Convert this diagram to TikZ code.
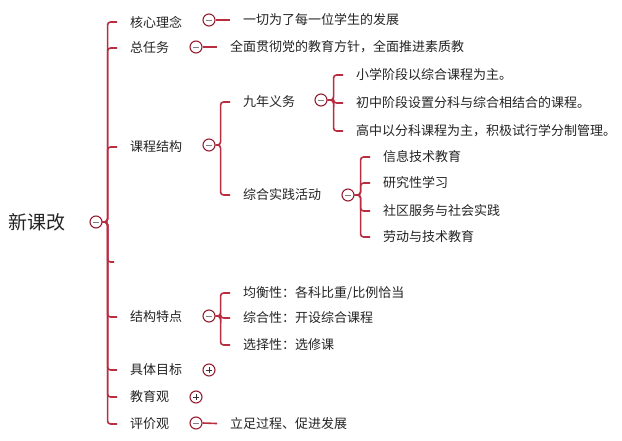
\documentclass[tikz,border=0pt]{standalone}
\usepackage{fontspec}
\setmainfont{Noto Sans CJK SC}
\definecolor{linered}{RGB}{185,45,65}
\definecolor{ringred}{RGB}{150,30,50}
\definecolor{txtgray}{RGB}{35,35,35}

\begin{document}
\begin{tikzpicture}[x=1pt, y=-1pt, font=\fontsize{13}{16}\selectfont,
    every node/.style={text=txtgray},
    item/.style={anchor=west, inner sep=0pt},
    ring/.style={circle, draw=ringred, line width=1.1pt, fill=white, minimum size=12pt, inner sep=0pt},
    fold/.style={ring, path picture={
        \draw[gray, line width=0.8pt] ([xshift=-3pt]path picture bounding box.center) -- ([xshift=3pt]path picture bounding box.center);}},
    unfold/.style={ring, path picture={
        \draw[gray!40!black, line width=0.8pt] ([xshift=-3pt]path picture bounding box.center) -- ([xshift=3pt]path picture bounding box.center)
          ([yshift=-3pt]path picture bounding box.center) -- ([yshift=3pt]path picture bounding box.center);}},
    branch/.style={draw=linered, line width=1.6pt, rounded corners=3pt, shorten >=13pt}]
  \useasboundingbox (0,0) rectangle (622,441);

  % Root
  \node[item, font=\fontsize{19}{22}\selectfont] (root) at (8,222) {新课改};
  \node[fold] (rootc) at (96,222) {};

  % First level
  \node[item] (hxln) at (130,22) {核心理念};
  \node[fold] (hxlnc) at (209,20) {};
  \node[item] (hxln1) at (243,20) {一切为了每一位学生的发展};

  \node[item] (zrw) at (130,48) {总任务};
  \node[fold] (zrwc) at (196,47) {};
  \node[item] (zrw1) at (230,47) {全面贯彻党的教育方针，全面推进素质教};

  \node[item] (kcjg) at (130,147) {课程结构};
  \node[fold] (kcjgc) at (209,145) {};

  \coordinate (blank) at (114,262);

  \node[item] (jgtd) at (130,317) {结构特点};
  \node[fold] (jgtdc) at (209,316) {};

  \node[item] (jtmb) at (130,370) {具体目标};
  \node[unfold] (jtmbc) at (209,370) {};

  \node[item] (jyg) at (130,397) {教育观};
  \node[unfold] (jygc) at (196,397) {};

  \node[item] (pjg) at (130,424) {评价观};
  \node[fold] (pjgc) at (196,423) {};
  \node[item] (pjg1) at (230,424) {立足过程、促进发展};

  % Course structure
  \node[item] (jnyw) at (243,102) {九年义务};
  \node[fold] (jnywc) at (321,100) {};
  \node[item] (jnyw1) at (356,75) {小学阶段以综合课程为主。};
  \node[item] (jnyw2) at (356,103) {初中阶段设置分科与综合相结合的课程。};
  \node[item] (jnyw3) at (356,131) {高中以分科课程为主，积极试行学分制管理。};

  \node[item] (zhsj) at (243,195) {综合实践活动};
  \node[fold] (zhsjc) at (348,195) {};
  \node[item] (zhsj1) at (383,157) {信息技术教育};
  \node[item] (zhsj2) at (383,183) {研究性学习};
  \node[item] (zhsj3) at (383,211) {社区服务与社会实践};
  \node[item] (zhsj4) at (383,237) {劳动与技术教育};

  % Structure features
  \node[item] (jgtd1) at (243,293) {均衡性：各科比重/比例恰当};
  \node[item] (jgtd2) at (243,318) {综合性：开设综合课程};
  \node[item] (jgtd3) at (243,345) {选择性：选修课};

  % Connectors
  \foreach \n in {hxln,zrw,kcjg,jgtd,jtmb,jyg,pjg}
    \draw[branch] (rootc.east) -- ++(5,0) |- (\n.west);
  \draw[branch, shorten >=0pt] (rootc.east) -- ++(5,0) |- (blank);

  \draw[branch] (hxlnc.east) -- (hxln1.west);
  \draw[branch] (zrwc.east) -- (zrw1.west);
  \draw[branch] (pjgc.east) -- (pjg1.west);

  \foreach \n in {jnyw,zhsj}
    \draw[branch] (kcjgc.east) -- ++(5,0) |- (\n.west);
  \foreach \n in {jnyw1,jnyw2,jnyw3}
    \draw[branch] (jnywc.east) -- ++(6,0) |- (\n.west);
  \foreach \n in {zhsj1,zhsj2,zhsj3,zhsj4}
    \draw[branch] (zhsjc.east) -- ++(6,0) |- (\n.west);
  \foreach \n in {jgtd1,jgtd2,jgtd3}
    \draw[branch] (jgtdc.east) -- ++(5,0) |- (\n.west);
\end{tikzpicture}
\end{document}
